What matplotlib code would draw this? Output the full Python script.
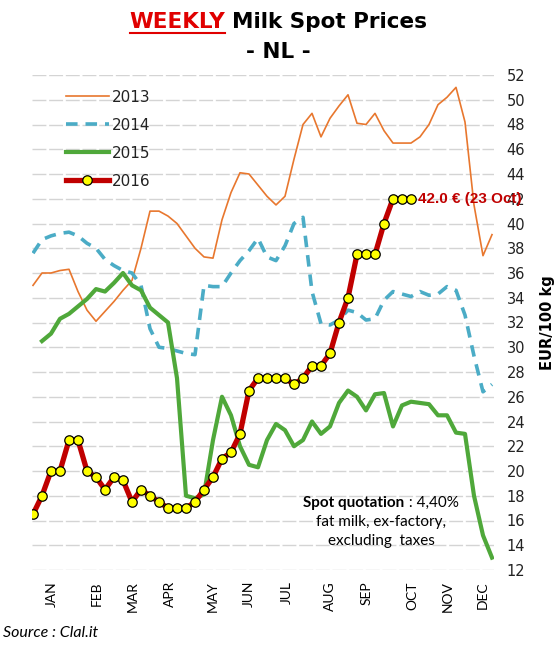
import matplotlib
matplotlib.use('Agg')
import matplotlib.pyplot as plt
from matplotlib.lines import Line2D
import numpy as np

# weekly prices, EUR/100 kg (weeks 1..52)
weeks = np.arange(1, 53)

p2013 = [35.0, 36.0, 36.0, 36.2, 36.3, 34.5, 33.0, 32.1, 32.9, 33.7,
         34.6, 35.4, 38.0, 41.0, 41.0, 40.6, 40.0, 39.0, 38.0, 37.3,
         37.2, 40.3, 42.5, 44.1, 44.0, 43.1, 42.2, 41.5, 42.2, 45.2,
         48.0, 48.9, 47.0, 48.5, 49.5, 50.4, 48.1, 48.0, 48.9, 47.5,
         46.5, 46.5, 46.5, 47.0, 48.0, 49.6, 50.2, 51.0, 48.2, 41.5,
         37.4, 39.1]

p2014 = [37.6, 38.7, 39.0, 39.2, 39.3, 39.0, 38.4, 38.0, 37.1, 36.6,
         36.2, 36.0, 35.0, 31.5, 30.0, 29.9, 29.7, 29.5, 29.4, 35.0,
         34.9, 34.9, 36.0, 37.0, 37.8, 38.8, 37.3, 37.0, 38.2, 40.0,
         40.5, 34.5, 31.9, 31.8, 32.2, 33.0, 32.8, 32.2, 32.3, 33.8,
         34.5, 34.3, 34.1, 34.5, 34.2, 34.3, 34.9, 34.6, 32.6, 29.3,
         26.4, 27.0]

p2015 = [np.nan, 30.5, 31.1, 32.3, 32.7, 33.3, 33.9, 34.7, 34.5, 35.2,
         36.0, 35.0, 34.6, 33.2, 32.6, 32.0, 27.5, 18.0, 17.8, 18.1,
         22.5, 26.0, 24.5, 22.0, 20.5, 20.3, 22.5, 23.8, 23.3, 22.0,
         22.5, 24.0, 23.0, 23.6, 25.5, 26.5, 26.0, 24.9, 26.2, 26.3,
         23.6, 25.3, 25.6, 25.5, 25.4, 24.5, 24.5, 23.1, 23.0, 18.0,
         14.8, 13.0]

p2016 = [16.5, 18.0, 20.0, 20.0, 22.5, 22.5, 20.0, 19.5, 18.5, 19.5,
         19.25, 17.5, 18.5, 18.0, 17.5, 17.0, 17.0, 17.0, 17.5, 18.5,
         19.5, 21.0, 21.5, 23.0, 26.5, 27.5, 27.5, 27.5, 27.5, 27.0,
         27.5, 28.5, 28.5, 29.5, 32.0, 34.0, 37.5, 37.5, 37.5, 40.0,
         42.0, 42.0, 42.0]

month_labels = ['JAN', 'FEB', 'MAR', 'APR', 'MAY', 'JUN',
                'JUL', 'AUG', 'SEP', 'OCT', 'NOV', 'DEC']
month_weeks = [3.1, 8.1, 12.1, 16.2, 21, 25, 29.2, 34, 38.1, 43.1, 47.1, 51]

last_label = '42.0 € (23 Oct)'

W, H = 557, 645
fig = plt.figure(figsize=(W / 100, H / 100), dpi=100)
ax = fig.add_axes([32 / W, 75 / H, (494 - 32) / W, (570 - 75) / H])

ax.plot(weeks, p2013, color='#E8772E', lw=1.2, label='2013', zorder=3)
ax.plot(weeks, p2014, color='#4BACC6', lw=2.6, ls=(0, (3.2, 2.2)), label='2014', zorder=3)
ax.plot(weeks, p2015, color='#4FA83A', lw=3.0, label='2015', zorder=3)
w16 = weeks[:len(p2016)]
ax.plot(w16, p2016, color='#C00000', lw=3.8, marker='o', ms=6.8,
        mfc='#FFFF00', mec='black', mew=0.9, label='2016', zorder=4)

ax.text(w16[-1] + 0.8, p2016[-1], last_label, color='#C00000', fontsize=11,
        fontweight='bold', family='Liberation Sans', ha='left', va='center', zorder=5)

ax.set_xlim(1 - 1 / 9, 52 + 2 / 9)
ax.set_ylim(12, 52)
ax.set_yticks(np.arange(12, 53, 2))
ax.yaxis.tick_right()
ax.tick_params(axis='y', length=0, pad=9, labelsize=10.5, labelcolor='#222222')
ax.set_xticks(month_weeks)
ax.set_xticklabels(month_labels, rotation=90, family='Lato', fontsize=10)
ax.tick_params(axis='x', length=0, pad=8)
ax.grid(axis='y', color='#d4d4d4', lw=1, ls=(0, (10, 2)), zorder=0)
for s in ax.spines.values():
    s.set_visible(False)

ax.yaxis.set_label_position('right')
ax.set_ylabel('EUR/100 kg', fontsize=10.5, fontweight='bold')
ax.yaxis.set_label_coords((540 - 32) / 462, 0.5)

leg = ax.legend(loc='upper left', bbox_to_anchor=(52 / W, 1 - 76 / H),
                bbox_transform=fig.transFigure, frameon=False, fontsize=11,
                handlelength=2.8, labelspacing=0.85, handletextpad=0.2)
for t in leg.get_texts():
    t.set_color('#222222')

# title with mixed colours
fig.canvas.draw()
r = fig.canvas.get_renderer()
ta = fig.text(0, 0, 'WEEKLY', color='#E00000', fontsize=15.5, fontweight='bold')
tb = fig.text(0, 0, 'Milk Spot Prices', color='black', fontsize=15.5, fontweight='bold')
wa = ta.get_window_extent(r).width
wb = tb.get_window_extent(r).width
gap = 7
x0 = (W - (wa + gap + wb)) / 2
ty = H - 22
ta.set_position((x0 / W, ty / H))
tb.set_position(((x0 + wa + gap) / W, ty / H))
ta.set_va('center')
tb.set_va('center')
uy = H - 33
fig.add_artist(Line2D([x0 / W, (x0 + wa) / W], [uy / H, uy / H],
                      transform=fig.transFigure, color='#E00000', lw=1.5))
fig.text(0.5, 1 - 52 / H, '- NL -', ha='center', va='center', fontsize=15.5,
         fontweight='bold')

# note
na = fig.text(0, 0, 'Spot quotation', fontsize=11, fontweight='bold', family='Lato')
nb = fig.text(0, 0, ' : 4,40%', fontsize=11, family='Lato')
wna = na.get_window_extent(r).width
wnb = nb.get_window_extent(r).width
cx = 381
nx0 = cx - (wna + wnb) / 2
na.set_position((nx0 / W, 1 - 503 / H))
nb.set_position(((nx0 + wna) / W, 1 - 503 / H))
na.set_va('center')
nb.set_va('center')
fig.text(cx / W, 1 - 522 / H, 'fat milk, ex-factory,', ha='center', va='center',
         fontsize=11, family='Lato')
fig.text(cx / W, 1 - 541 / H, 'excluding  taxes', ha='center', va='center',
         fontsize=11, family='Lato')

fig.text(3 / W, 1 - 633 / H, 'Source : Clal.it', ha='left', va='center',
         fontsize=11.5, style='italic', family='Lato')

fig.savefig('out.png', dpi=100, facecolor='white')
